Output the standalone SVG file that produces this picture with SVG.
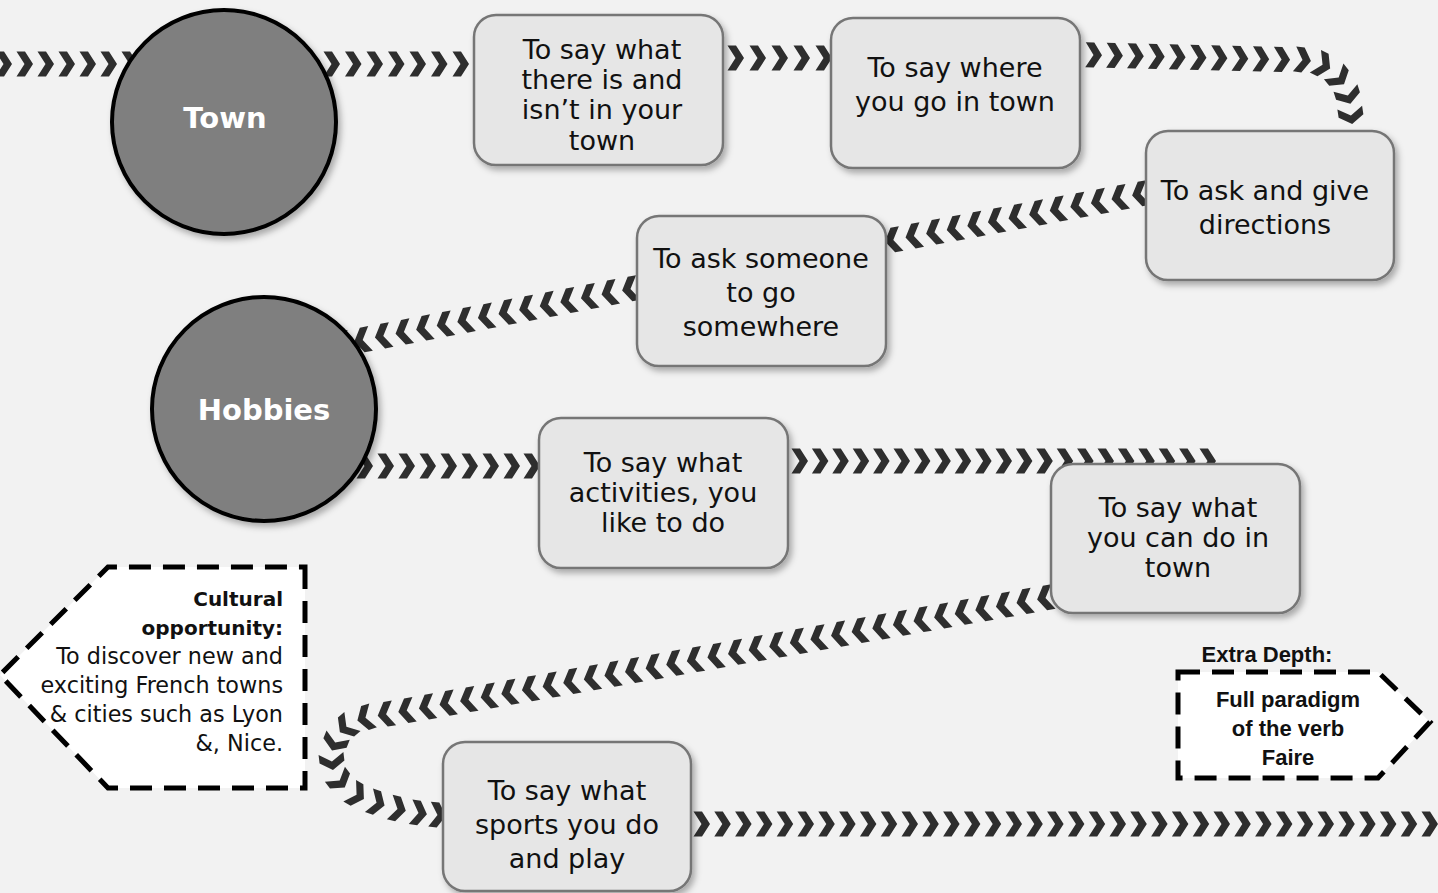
<svg xmlns="http://www.w3.org/2000/svg" width="1438" height="893" viewBox="0 0 1438 893">
<defs>
<style>
.bg{fill:#f2f2f2}
.chain{fill:none;stroke:none;marker-start:url(#chev);marker-mid:url(#chev);marker-end:url(#chev)}
.box{fill:#e6e6e6;stroke:#767676;stroke-width:2.5;filter:url(#sh)}
.circ{fill:#7f7f7f;stroke:#000;stroke-width:4;filter:url(#sh)}
.bt{font-family:"DejaVu Sans","Liberation Sans",sans-serif;font-size:27px;fill:#111;text-anchor:middle;dominant-baseline:central}
.ct{font-family:"DejaVu Sans","Liberation Sans",sans-serif;font-size:29px;font-weight:bold;fill:#fff;text-anchor:middle;dominant-baseline:central}
.dash{fill:#fff;stroke:#000;stroke-width:5;stroke-dasharray:22 12}
.cul{font-family:"DejaVu Sans","Liberation Sans",sans-serif;font-size:22.3px;fill:#111;text-anchor:end;dominant-baseline:central}
.b{font-weight:bold;font-size:20px}
.ex{font-family:"Liberation Sans",Arial,sans-serif;font-size:22px;font-weight:bold;fill:#111;text-anchor:middle;dominant-baseline:central}
</style>
<marker id="chev" markerUnits="userSpaceOnUse" viewBox="-10 -14 20 28" markerWidth="20" markerHeight="28" refX="0" refY="0" orient="auto">
<path d="M-8.5,-12.5 L0,-12.5 L8,0 L0,12.5 L-8.5,12.5 L-0.5,0 Z" fill="#2e2e2e"/>
</marker>
<filter id="sh" x="-20%" y="-20%" width="140%" height="140%">
<feDropShadow dx="3" dy="4" stdDeviation="3" flood-color="#000" flood-opacity="0.3"/>
</filter>
</defs>
<rect class="bg" x="0" y="0" width="1438" height="893"/>

<g id="connectors">
<polyline class="chain" points="4,64 25,64 46,64 67,64 88,64 109,64 130,64"/>
<polyline class="chain" points="332,64 353.5,64 375,64 396.5,64 418,64 439.5,64 461,64"/>
<polyline class="chain" points="736,58 758,58 780,58 802,58 824,58"/>
<polyline class="chain" points="1094,55 1114.9,55.5 1135.8,56 1156.7,56.5 1177.6,57 1198.5,57.5 1219.4,58 1240.3,58.5 1261.2,59 1282.1,59.5 1303,60 1323,65 1339,78 1348,96 1351,116"/>
<polyline class="chain" points="1140,194 1119.4,197.8 1098.8,201.7 1078.2,205.5 1057.6,209.3 1037,213.2 1016.4,217 995.8,220.8 975.2,224.6 954.6,228.5 934,232.3 913.4,236.1 892.8,240"/>
<polyline class="chain" points="630,289 609.4,292.9 588.8,296.8 568.2,300.8 547.6,304.7 527,308.6 506.4,312.5 485.8,316.5 465.2,320.4 444.6,324.3 424,328.2 403.4,332.2 382.8,336.1 362.2,340 341.6,344"/>
<polyline class="chain" points="365,466 386,466 407,466 428,466 449,466 470,466 491,466 512,466 532,466"/>
<polyline class="chain" points="800,461 820.4,461 840.8,461 861.2,461 881.6,461 902,461 922.4,461 942.8,461 963.2,461 983.6,461 1004,461 1024.4,461 1044.8,461 1065.2,461 1085.6,461 1106,461 1126.4,461 1146.8,461 1167.2,461 1187.6,461 1208,461"/>
<polyline class="chain" points="1045,598 1024.4,601.6 1003.8,605.3 983.2,608.9 962.6,612.5 942,616.2 921.4,619.8 900.8,623.5 880.2,627.1 859.5,630.7 838.9,634.4 818.3,638 797.7,641.6 777.1,645.3 756.5,648.9 735.9,652.5 715.3,656.2 694.7,659.8 674.1,663.4 653.5,667.1 632.9,670.7 612.3,674.4 591.7,678 571.1,681.6 550.5,685.3 529.8,688.9 509.2,692.5 488.6,696.2 468,699.8 447.4,703.4 426.8,707.1 406.2,710.7 385.6,714.3 365,718 346,727 335,743 332,762 340,781 357,795 377,803 398,809 419,813 438,815"/>
<polyline class="chain" points="702,824 722.8,824 743.6,824 764.4,824 785.2,824 806,824 826.8,824 847.6,824 868.4,824 889.2,824 910,824 930.8,824 951.6,824 972.4,824 993.2,824 1014,824 1034.8,824 1055.6,824 1076.4,824 1097.2,824 1118,824 1138.8,824 1159.6,824 1180.4,824 1201.2,824 1222,824 1242.8,824 1263.6,824 1284.4,824 1305.2,824 1326,824 1346.8,824 1367.6,824 1388.4,824 1409.2,824 1430,824"/>
</g>

<g id="town">
<circle class="circ" cx="224" cy="122" r="112"/>
<text class="ct" x="225" y="118">Town</text>
</g>

<g id="hobbies">
<circle class="circ" cx="264" cy="409" r="112"/>
<text class="ct" x="264" y="410">Hobbies</text>
</g>

<g id="n1">
<rect class="box" x="474" y="15" width="249" height="150" rx="22"/>
<text class="bt" x="602" y="49">To say what</text>
<text class="bt" x="602" y="79">there is and</text>
<text class="bt" x="602" y="109">isn’t in your</text>
<text class="bt" x="602" y="140">town</text>
</g>

<g id="n2">
<rect class="box" x="831" y="18" width="249" height="150" rx="22"/>
<text class="bt" x="955" y="67">To say where</text>
<text class="bt" x="955" y="101">you go in town</text>
</g>

<g id="n3">
<rect class="box" x="1146" y="131" width="248" height="149" rx="22"/>
<text class="bt" x="1265" y="190">To ask and give</text>
<text class="bt" x="1265" y="224">directions</text>
</g>

<g id="n4">
<rect class="box" x="637" y="216" width="249" height="150" rx="22"/>
<text class="bt" x="761" y="258">To ask someone</text>
<text class="bt" x="761" y="292">to go</text>
<text class="bt" x="761" y="326">somewhere</text>
</g>

<g id="n5">
<rect class="box" x="539" y="418" width="249" height="150" rx="22"/>
<text class="bt" x="663" y="462">To say what</text>
<text class="bt" x="663" y="492">activities, you</text>
<text class="bt" x="663" y="522">like to do</text>
</g>

<g id="n6">
<rect class="box" x="1051" y="464" width="249" height="149" rx="22"/>
<text class="bt" x="1178" y="507">To say what</text>
<text class="bt" x="1178" y="537">you can do in</text>
<text class="bt" x="1178" y="567">town</text>
</g>

<g id="n7">
<rect class="box" x="443" y="742" width="248" height="149" rx="22"/>
<text class="bt" x="567" y="790">To say what</text>
<text class="bt" x="567" y="824">sports you do</text>
<text class="bt" x="567" y="858">and play</text>
</g>

<g id="cultural">
<path class="dash" d="M305,567 L305,788 L108,788 L0,675 L108,567 Z"/>
<text class="cul b" x="283" y="599">Cultural</text>
<text class="cul b" x="283" y="628">opportunity:</text>
<text class="cul" x="283" y="656">To discover new and</text>
<text class="cul" x="283" y="685">exciting French towns</text>
<text class="cul" x="283" y="714">&amp; cities such as Lyon</text>
<text class="cul" x="283" y="743">&amp;, Nice.</text>
</g>

<g id="extra">
<text class="ex" x="1267" y="654">Extra Depth:</text>
<path class="dash" d="M1178,672 L1378,672 L1430,722 L1378,778 L1178,778 Z"/>
<text class="ex" x="1288" y="699">Full paradigm</text>
<text class="ex" x="1288" y="728">of the verb</text>
<text class="ex" x="1288" y="757">Faire</text>
</g>
</svg>
